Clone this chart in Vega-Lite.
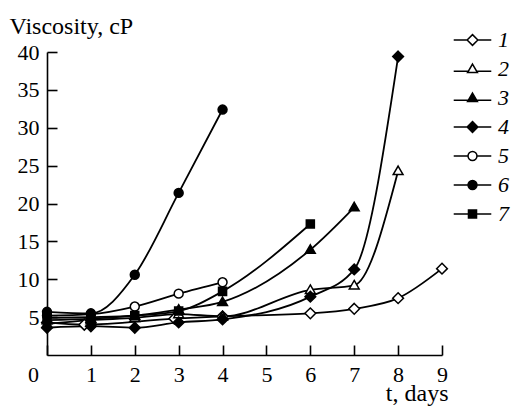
{
  "$schema": "https://vega.github.io/schema/vega-lite/v6.json",
  "autosize": "none",
  "width": 395,
  "height": 303,
  "padding": {"left": 47, "top": 52, "right": 70, "bottom": 57},
  "background": "white",
  "config": {
    "view": {"stroke": null},
    "font": "Liberation Serif",
    "axis": {
      "domainColor": "black", "domainWidth": 1.6,
      "tickColor": "black", "tickWidth": 1.6, "tickSize": -10,
      "labelFont": "Liberation Serif", "labelFontSize": 22, "labelColor": "black",
      "labelOverlap": false, "labelFlush": false, "labelBound": false,
      "titleFont": "Liberation Serif", "titleFontSize": 24, "titleFontWeight": "normal", "titleColor": "black",
      "grid": false
    },
    "legend": {
      "labelFont": "Liberation Serif", "labelFontSize": 22, "labelFontStyle": "italic", "labelColor": "black"
    }
  },
  "data": {
    "values": [
      {"s": "1", "t": 0, "v": 4.3}, {"s": "1", "t": 0.85, "v": 4.0}, {"s": "1", "t": 2.9, "v": 4.8}, {"s": "1", "t": 4, "v": 5.1}, {"s": "1", "t": 6, "v": 5.5}, {"s": "1", "t": 7, "v": 6.1}, {"s": "1", "t": 8, "v": 7.5}, {"s": "1", "t": 9, "v": 11.4},
      {"s": "2", "t": 0, "v": 4.1}, {"s": "2", "t": 1, "v": 4.6}, {"s": "2", "t": 2, "v": 4.9}, {"s": "2", "t": 3, "v": 5.4}, {"s": "2", "t": 4, "v": 5.1}, {"s": "2", "t": 6, "v": 8.6}, {"s": "2", "t": 7, "v": 9.2}, {"s": "2", "t": 8, "v": 24.3},
      {"s": "3", "t": 0, "v": 4.6}, {"s": "3", "t": 1, "v": 4.8}, {"s": "3", "t": 2, "v": 5.2}, {"s": "3", "t": 3, "v": 6.0}, {"s": "3", "t": 4, "v": 7.0}, {"s": "3", "t": 6, "v": 13.9}, {"s": "3", "t": 7, "v": 19.5},
      {"s": "4", "t": 0, "v": 3.6}, {"s": "4", "t": 1, "v": 3.8}, {"s": "4", "t": 2, "v": 3.6}, {"s": "4", "t": 3, "v": 4.3}, {"s": "4", "t": 4, "v": 4.7}, {"s": "4", "t": 6, "v": 7.7}, {"s": "4", "t": 7, "v": 11.3}, {"s": "4", "t": 8, "v": 39.4},
      {"s": "5", "t": 0, "v": 5.2}, {"s": "5", "t": 1, "v": 5.4}, {"s": "5", "t": 2, "v": 6.4}, {"s": "5", "t": 3, "v": 8.1}, {"s": "5", "t": 4, "v": 9.6},
      {"s": "6", "t": 0, "v": 5.7}, {"s": "6", "t": 1, "v": 5.5}, {"s": "6", "t": 2, "v": 10.6}, {"s": "6", "t": 3, "v": 21.4}, {"s": "6", "t": 4, "v": 32.4},
      {"s": "7", "t": 0, "v": 4.9}, {"s": "7", "t": 1, "v": 5.0}, {"s": "7", "t": 2, "v": 5.2}, {"s": "7", "t": 3, "v": 5.8}, {"s": "7", "t": 4, "v": 8.4}, {"s": "7", "t": 6, "v": 17.3}
    ]
  },
  "encoding": {
    "x": {
      "field": "t", "type": "quantitative",
      "scale": {"domain": [0, 9], "nice": false, "zero": false},
      "axis": {
        "values": [0, 1, 2, 3, 4, 5, 6, 7, 8, 9],
        "title": "t, days",
        "labelPadding": 19,
        "labelOffset": {"condition": {"test": "datum.value === 0", "value": -14}, "value": 0},
        "titleAlign": "right", "titleAnchor": "start", "titleX": 401, "titleY": 45, "titleBaseline": "alphabetic"
      }
    },
    "y": {
      "field": "v", "type": "quantitative",
      "scale": {"domain": [0, 40], "nice": false},
      "axis": {
        "values": [5, 10, 15, 20, 25, 30, 35, 40],
        "title": "Viscosity, cP",
        "labelPadding": 18,
        "titleAngle": 0, "titleAlign": "left", "titleAnchor": "start", "titleX": -38, "titleY": -19, "titleBaseline": "alphabetic"
      }
    }
  },
  "resolve": {"scale": {"shape": "independent", "fill": "independent"}},
  "layer": [
    {
      "mark": {"type": "line", "interpolate": "monotone", "color": "black", "strokeWidth": 1.8},
      "encoding": {"detail": {"field": "s", "type": "nominal"}}
    },
    {
      "mark": {"type": "point", "filled": true, "opacity": 1, "stroke": "black", "strokeWidth": 1.5, "size": 80},
      "encoding": {
        "shape": {
          "field": "s", "type": "nominal",
          "scale": {
            "domain": ["1", "2", "3", "4", "5", "6", "7"],
            "range": [
              "M0,-1.2L1.2,0L0,1.2L-1.2,0Z",
              "M0,-1.1L1.1,0.8L-1.1,0.8Z",
              "M0,-1.1L1.1,0.8L-1.1,0.8Z",
              "M0,-1.2L1.2,0L0,1.2L-1.2,0Z",
              "M1,0A1,1,0,1,1,-1,0A1,1,0,1,1,1,0Z",
              "M1,0A1,1,0,1,1,-1,0A1,1,0,1,1,1,0Z",
              "M-0.9,-0.9H0.9V0.9H-0.9Z"
            ]
          },
          "legend": null
        },
        "fill": {
          "field": "s", "type": "nominal",
          "scale": {
            "domain": ["1", "2", "3", "4", "5", "6", "7"],
            "range": ["white", "white", "black", "black", "white", "black", "black"]
          },
          "legend": null
        }
      }
    },
    {
      "transform": [{"filter": "datum.t < 0"}],
      "mark": {"type": "point", "filled": true, "opacity": 1, "stroke": "black", "strokeWidth": 1.5, "size": 80},
      "encoding": {
        "shape": {
          "field": "s", "type": "nominal",
          "scale": {
            "domain": ["1", "2", "3", "4", "5", "6", "7"],
            "range": [
              "M-4.2,0H-1.2M1.2,0H4.2M0,-1.2L1.2,0L0,1.2L-1.2,0Z",
              "M-4.2,0.5H-0.9M0.9,0.5H4.2M0,-1.1L1.1,0.8L-1.1,0.8Z",
              "M-4.2,0.5H-0.9M0.9,0.5H4.2M0,-1.1L1.1,0.8L-1.1,0.8Z",
              "M-4.2,0H-1.2M1.2,0H4.2M0,-1.2L1.2,0L0,1.2L-1.2,0Z",
              "M-4.2,0H-1M1,0H4.2M1,0A1,1,0,1,1,-1,0A1,1,0,1,1,1,0Z",
              "M-4.2,0H-1M1,0H4.2M1,0A1,1,0,1,1,-1,0A1,1,0,1,1,1,0Z",
              "M-4.2,0H-0.9M0.9,0H4.2M-0.9,-0.9H0.9V0.9H-0.9Z"
            ]
          },
          "legend": {
            "title": null, "orient": "none", "legendX": 414.5, "legendY": -23,
            "padding": 0, "rowPadding": 7, "symbolSize": 80, "labelOffset": 14.5
          }
        },
        "fill": {
          "field": "s", "type": "nominal",
          "scale": {
            "domain": ["1", "2", "3", "4", "5", "6", "7"],
            "range": ["white", "white", "black", "black", "white", "black", "black"]
          },
          "legend": {
            "title": null, "orient": "none", "legendX": 414.5, "legendY": -23,
            "padding": 0, "rowPadding": 7, "symbolSize": 80, "labelOffset": 14.5
          }
        }
      }
    }
  ]
}
